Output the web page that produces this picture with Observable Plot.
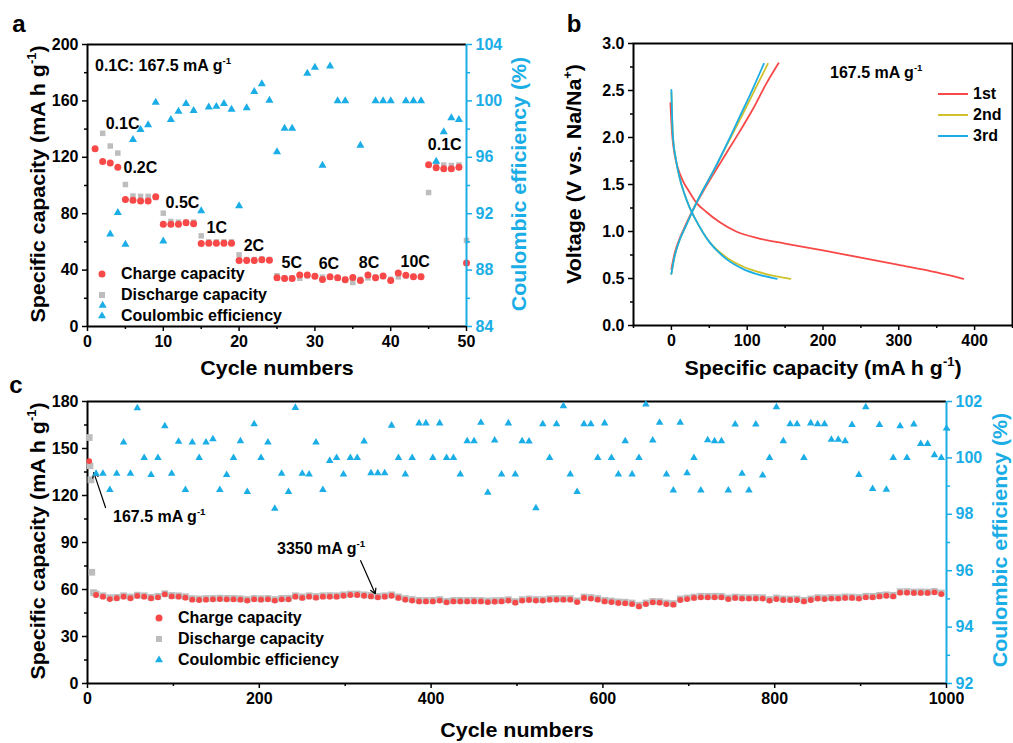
<!DOCTYPE html>
<html><head><meta charset="utf-8">
<script src="https://cdn.jsdelivr.net/npm/d3@7"></script>
<script src="https://cdn.jsdelivr.net/npm/@observablehq/plot@0.6"></script>
<style>
html,body{margin:0;padding:0;background:#fff;}
#root{position:relative;width:1013px;height:743px;overflow:hidden;font-family:"Liberation Sans",Arial,sans-serif;font-weight:bold;}
.t{position:absolute;white-space:nowrap;font-weight:bold;line-height:1;}
.t sup{font-size:0.6em;vertical-align:0.75em;line-height:0;}
.sym{position:absolute;}
</style>
</head><body><div id="root"></div>
<script>
// ---------------- data: panel a (rate capability) ----------------
const aChargeCycles = [1,2,3,4,5,6,7,8,9,10,11,12,13,14,15,16,17,18,19,20,21,22,23,24,25,26,27,28,29,30,31,32,33,34,35,36,37,38,39,40,41,42,43,44,45,46,47,48,49,50];
const aCharge = [126,117,116,113,90,89.5,89,89,92,72.6,72.5,72.5,73.5,72.8,58.9,59,59,59,59,46.8,46.8,46.8,47.3,47,34.5,34,34,36.5,36.5,35.6,33.4,35.2,34.5,33.1,34.7,32.6,36.5,34.5,35.9,32.6,37.9,36.3,35.2,35.2,114.7,112.6,111.8,111.8,113,45];
const aDischargeCycles = [2,3,4,5,6,7,8,9,10,11,12,13,14,15,16,17,18,19,20,21,22,23,24,25,26,27,28,29,30,31,32,33,34,35,36,37,38,39,40,41,42,43,44,45,46,47,48,49,50];
const aDischarge = [137,128,123,100.7,92.5,92.3,92.3,91.5,80.4,74.5,74,74,74,64.3,60,60,60,60,50.8,47.5,47.5,47.8,47.5,36,34.5,34.5,34.2,36,35.5,35,35,34.5,33.5,31.2,33.5,34.5,35,35.5,33.5,35.2,36,35.5,35.5,95,114.8,114.5,114.2,114.5,61];
const aCECycles = [2,3,4,5,6,7,8,9,10,11,12,13,14,15,16,17,18,19,20,21,22,23,24,25,26,27,29,30,31,32,33,34,36,38,39,40,42,43,44,46,47,48,49];
const aCE = [85.5,90.55,92.08,89.82,97.25,97.96,98.3,99.9,90.05,98.67,99.26,99.8,99.3,92.2,99.56,99.6,99.8,99.4,92.55,99.5,100.65,101.2,100.04,96.38,98.05,98.05,101.95,102.37,95.43,102.46,100,100,96.85,100,100,100,100,100,100,95.7,97.8,98.8,98.67];
const aRateLabels = ["0.1C","0.2C","0.5C","1C","2C","5C","6C","8C","10C","0.1C"];
const aRateX = [2.4,4.75,10.3,15.7,20.6,25.6,30.5,35.8,41.3,44.9];
const aRateY = [143.4,112.2,87.6,70,57.2,45.2,44.7,45,45.7,129];
const aXTicks = [0,10,20,30,40,50], aXMinor = [5,15,25,35,45];
const aYTicks = [0,40,80,120,160,200], aYMinor = [20,60,100,140,180];
const aCETicks = [84,88,92,96,100,104], aCEMinor = [86,90,94,98,102];

// ---------------- data: panel b (voltage profiles) ----------------
const b1stDischarge = [[-1.3,2.365],[0.9,2.04],[4,1.83],[8.4,1.68],[15,1.54],[23.8,1.42],[32.6,1.31],[45.8,1.21],[63.4,1.10],[85.4,1.0],[116,0.925],[150,0.872],[200,0.80],[250,0.722],[300,0.645],[350,0.565],[385,0.497]];
const b2ndDischarge = [[0,2.48],[1.8,2.04],[6.2,1.755],[10.6,1.58],[17.2,1.40],[23.8,1.26],[30.4,1.15],[41.4,0.993],[50.2,0.89],[72.2,0.727],[94.2,0.628],[116,0.567],[157,0.496]];
const b3rdDischarge = [[0,2.507],[1.8,2.04],[6.2,1.755],[10.6,1.58],[17.2,1.40],[23.8,1.26],[30.4,1.15],[41.4,0.993],[50.2,0.887],[72.2,0.709],[94.2,0.603],[116.2,0.539],[139,0.496]];
const b1stCharge = [[0,0.60],[4,0.76],[10.6,0.92],[19.4,1.08],[28.2,1.23],[41.4,1.42],[54.6,1.60],[72.2,1.83],[89.8,2.06],[107.4,2.30],[125,2.57],[141.3,2.79]];
const b2ndCharge = [[0,0.55],[4,0.727],[10.6,0.904],[19.4,1.064],[28.2,1.223],[41.4,1.436],[54.6,1.63],[72.2,1.905],[94.2,2.25],[111.8,2.535],[127.2,2.784]];
const b3rdCharge = [[0,0.55],[4,0.727],[10.6,0.904],[19.4,1.064],[28.2,1.223],[41.4,1.436],[54.6,1.63],[72.2,1.915],[89.8,2.216],[107.4,2.518],[121.9,2.784]];
const bXTicks = [0,100,200,300,400], bXMinor = [-50,50,150,250,350,450];
const bYTicks = [0,0.5,1,1.5,2,2.5,3], bYMinor = [0.25,0.75,1.25,1.75,2.25,2.75];

// ---------------- data: panel c (long cycling) ----------------
const cCycles = [10,18,26,34,42,50,58,66,74,82,90,98,106,114,122,130,138,146,154,162,170,178,186,194,202,210,218,226,234,242,250,258,266,274,282,290,298,306,314,322,330,338,346,354,362,370,378,386,394,402,410,418,426,434,442,450,458,466,474,482,490,498,506,514,522,530,538,546,554,562,570,578,586,594,602,610,618,626,634,642,650,658,666,674,682,690,698,706,714,722,730,738,746,754,762,770,778,786,794,802,810,818,826,834,842,850,858,866,874,882,890,898,906,914,922,930,938,946,954,962,970,978,986,994];
const cCharge = [56.5,55.4,53.9,54.4,55.4,54.4,55.9,55.4,54.4,55.0,
56.9,55.6,55.4,54.8,53.5,53.3,53.5,53.7,53.9,53.7,
53.7,53.5,52.9,53.7,53.5,53.7,52.9,53.7,53.7,55.4,
54.6,55.4,54.8,55.4,55.4,55.4,56.0,56.5,56.5,56.0,
55.6,55.0,55.4,56.0,54.6,53.5,52.9,52.4,52.4,52.4,
52.9,51.8,52.4,52.4,52.4,52.4,52.4,52.0,52.2,52.4,
52.9,51.6,52.9,53.3,52.9,52.9,53.5,53.5,53.5,53.5,
52.0,54.6,54.2,53.5,52.4,52.0,51.4,51.2,50.7,49.2,
50.7,51.8,51.6,50.7,50.3,53.3,53.9,54.6,55.0,55.0,
55.0,55.0,53.9,54.6,54.2,54.2,54.2,54.2,52.9,53.9,
53.3,53.3,53.3,52.4,53.3,54.2,53.9,54.2,54.2,54.6,
54.6,54.2,55.0,55.0,55.6,56.0,55.6,58.0,58.0,57.8,
57.8,57.8,58.2,57.1];
const cDischarge = [57.2,56.0,54.8,55.0,56.0,55.2,56.4,56.0,55.0,55.6,
57.3,56.2,56.0,55.4,54.2,54.0,54.2,54.3,54.5,54.3,
54.3,54.1,53.6,54.3,54.1,54.3,53.6,54.3,54.4,56.0,
55.3,56.0,55.5,56.0,56.1,56.0,56.6,57.1,57.1,56.6,
56.2,55.7,56.0,56.6,55.3,54.2,53.6,53.1,53.0,53.1,
53.6,52.5,53.0,53.1,53.0,53.1,53.0,52.7,52.9,53.0,
53.5,52.3,53.5,54.0,53.6,53.5,54.1,54.2,54.1,54.2,
52.8,55.2,54.9,54.2,53.1,52.7,52.1,51.9,51.4,50.0,
51.4,52.4,52.3,51.4,51.0,54.0,54.6,55.2,55.7,55.6,
55.7,55.6,54.6,55.2,54.9,54.8,54.9,54.8,53.6,54.6,
54.0,53.9,54.0,53.1,54.0,54.8,54.6,54.9,54.8,55.3,
55.2,54.9,55.7,55.6,56.3,56.6,56.3,58.6,58.7,58.4,
58.5,58.4,58.8,57.8];
const cStartChargeCycles = [2], cStartCharge = [142];
const cStartDischargeCycles = [2,3,4,5,7], cStartDischarge = [157,139,130,71,58];
const cCECycles = cCycles.concat([1000]);
const cCE = [99.44,99.44,98.87,99.44,100.55,99.44,101.77,100,99.4,100,
101.13,99.44,100.58,98.87,100.55,100,100.55,100.67,98.87,99.4,
100,100.6,98.8,101.2,100,100.55,98.2,99.44,98.8,101.78,
99.44,99.42,100.55,98.87,99.9,100,99.42,100,100,100.59,
99.46,99.46,99.46,101.15,100,99.42,100,101.23,101.23,100,
101.23,100,100,99.42,100.6,100.6,101.25,98.77,100.62,99.42,
101.23,99.42,100.6,100.59,98.22,101.2,100,101.2,101.84,99.42,
98.8,101.2,101.2,100,101.23,100,99.42,100.6,99.42,100,
101.9,100.62,101.25,99.42,98.85,101.25,99.46,100,98.85,100.63,
100.6,100.6,98.85,101.19,99.44,98.85,101.19,99.38,100,101.8,
100.6,101.2,101.2,100,101.23,101.2,101.2,100.65,100.65,100.6,
101.17,99.4,101.8,98.9,101.17,98.88,100,101.13,100,101.19,
100.5,100.5,100.1,100,101.05];
const cArrowFrom = [[21,112.3],[318,78.4]], cArrowTo = [[7.4,134.6],[335,57.3]];
const cXTicks = [0,200,400,600,800,1000], cXMinor = [100,300,500,700,900];
const cYTicks = [0,30,60,90,120,150,180], cYMinor = [15,45,75,105,135,165];
const cCETicks = [92,94,96,98,100,102], cCEMinor = [93,95,97,99,101];

// ---------------- styling ----------------
const RED = "#F84848", GRAY = "#BDBDBD", CYAN = "#1AADE6", YELLOW = "#CFC02C";
const FONT = '"Liberation Sans", Arial, sans-serif';
const baseStyle = {fontFamily: FONT, fontSize: "16px", fontWeight: "bold", color: "#000", background: "none", overflow: "visible"};
const ceStyle = {...baseStyle, color: CYAN};
const root = document.getElementById("root");
const toRows = (xs, ys) => xs.map((x, i) => ({x, y: ys[i]}));
const plain = d => String(d);

function place(svg, left, top) {
  const d = document.createElement("div");
  d.style.position = "absolute"; d.style.left = left + "px"; d.style.top = top + "px";
  d.appendChild(svg); root.appendChild(d);
}
function txt(html, x, y, o = {}) {
  const d = document.createElement("div");
  d.className = "t"; d.innerHTML = html;
  d.style.left = x + "px"; d.style.top = y + "px";
  d.style.fontSize = (o.size || 16) + "px"; d.style.color = o.color || "#000";
  const sx = o.sx || 1;
  if (o.rotate) d.style.transform = `translate(-50%,-50%) rotate(-90deg) scale(${sx},1)`;
  else if (o.center) d.style.transform = `translate(-50%,-50%) scale(${sx},1)`;
  else { d.style.transform = `translateY(-50%) scale(${sx},1)`; d.style.transformOrigin = "left center"; }
  root.appendChild(d);
}
function sym(kind, cx, cy, color, s) {
  const ns = "http://www.w3.org/2000/svg";
  const svg = document.createElementNS(ns, "svg");
  svg.setAttribute("width", 14); svg.setAttribute("height", 14);
  svg.setAttribute("class", "sym");
  svg.style.left = (cx - 7) + "px"; svg.style.top = (cy - 7) + "px";
  let el;
  if (kind === "circle") { el = document.createElementNS(ns, "circle"); el.setAttribute("cx", 7); el.setAttribute("cy", 7); el.setAttribute("r", s); }
  else if (kind === "square") { el = document.createElementNS(ns, "rect"); el.setAttribute("x", 7 - s); el.setAttribute("y", 7 - s); el.setAttribute("width", 2 * s); el.setAttribute("height", 2 * s); }
  else { el = document.createElementNS(ns, "path"); const h = s * 1.732; el.setAttribute("d", `M7,${7 - h * 2 / 3}L${7 + s},${7 + h / 3}L${7 - s},${7 + h / 3}Z`); }
  el.setAttribute("fill", color); svg.appendChild(el); root.appendChild(svg);
}
const majorTick = {tickSize: 5, tickPadding: 4, strokeWidth: 1.5, label: null, tickFormat: plain};
const minorTick = {tickSize: 3, strokeWidth: 1.5, tickFormat: () => "", label: null};

// ---------------- panel a ----------------
const aChargeRows = toRows(aChargeCycles, aCharge);
const aDisRows = toRows(aDischargeCycles, aDischarge);
const aCERows = toRows(aCECycles, aCE);
const aLabelRows = aRateLabels.map((t, i) => ({t, x: aRateX[i], y: aRateY[i]}));
const aDims = {width: 520, height: 380, marginLeft: 87, marginRight: 54, marginTop: 44, marginBottom: 54};

place(Plot.plot({
  ...aDims, style: baseStyle,
  x: {domain: [0, 50]}, y: {domain: [0, 200]},
  marks: [
    Plot.axisX(aXTicks, majorTick), Plot.axisX(aXMinor, minorTick),
    Plot.axisY(aYTicks, majorTick), Plot.axisY(aYMinor, minorTick),
    Plot.ruleX([0], {strokeWidth: 2}), Plot.ruleY([0], {strokeWidth: 2}), Plot.ruleY([200], {strokeWidth: 2}),
    Plot.dot(aDisRows, {x: "x", y: "y", symbol: "square", fill: GRAY, r: 3.1}),
    Plot.dot(aChargeRows, {x: "x", y: "y", fill: RED, r: 3.5}),
    Plot.text(aLabelRows, {x: "x", y: "y", text: "t", textAnchor: "start", fontSize: 16, fontWeight: "bold", fill: "#000"})
  ]
}), 0, 0);
place(Plot.plot({
  ...aDims, style: ceStyle,
  x: {domain: [0, 50], axis: null}, y: {domain: [84, 104]},
  marks: [
    Plot.axisY(aCETicks, {...majorTick, anchor: "right"}), Plot.axisY(aCEMinor, {...minorTick, anchor: "right"}),
    Plot.ruleX([50], {stroke: CYAN, strokeWidth: 2}),
    Plot.dot(aCERows, {x: "x", y: "y", symbol: "triangle", fill: CYAN, r: 3})
  ]
}), 0, 0);

// ---------------- panel b ----------------
const bCurves = [
  {data: b1stDischarge, c: RED}, {data: b1stCharge, c: RED},
  {data: b2ndDischarge, c: YELLOW}, {data: b2ndCharge, c: YELLOW},
  {data: b3rdDischarge, c: CYAN}, {data: b3rdCharge, c: CYAN}
];
place(Plot.plot({
  width: 453, height: 380, marginLeft: 73, marginRight: 1, marginTop: 43, marginBottom: 55,
  style: baseStyle,
  x: {domain: [-50, 450]}, y: {domain: [0, 3]},
  marks: [
    Plot.axisX(bXTicks, majorTick), Plot.axisX(bXMinor, minorTick),
    Plot.axisY(bYTicks, {...majorTick, tickFormat: d3.format(".1f")}), Plot.axisY(bYMinor, minorTick),
    Plot.frame({stroke: "#000", strokeWidth: 2}),
    ...bCurves.map(k => Plot.line(k.data, {x: d => d[0], y: d => d[1], stroke: k.c, strokeWidth: 1.8, curve: "monotone-x"}))
  ]
}), 560, 0);

// ---------------- panel c ----------------
const cChargeRows = toRows(cStartChargeCycles, cStartCharge).concat(toRows(cCycles, cCharge));
const cDisRows = toRows(cStartDischargeCycles, cStartDischarge).concat(toRows(cCycles, cDischarge));
const cCERows = toRows(cCECycles, cCE);
const cArrowRows = cArrowFrom.map((f, i) => ({x1: f[0], y1: f[1], x2: cArrowTo[i][0], y2: cArrowTo[i][1]}));
const cDims = {width: 1013, height: 363, marginLeft: 87, marginRight: 67, marginTop: 21, marginBottom: 60};
place(Plot.plot({
  ...cDims, style: baseStyle,
  x: {domain: [0, 1000]}, y: {domain: [0, 180]},
  marks: [
    Plot.axisX(cXTicks, majorTick), Plot.axisX(cXMinor, minorTick),
    Plot.axisY(cYTicks, majorTick), Plot.axisY(cYMinor, minorTick),
    Plot.ruleX([0], {strokeWidth: 2}), Plot.ruleY([0], {strokeWidth: 2}), Plot.ruleY([180], {strokeWidth: 2}),
    Plot.dot(cDisRows, {x: "x", y: "y", symbol: "square", fill: GRAY, r: 3.8}),
    Plot.dot(cChargeRows, {x: "x", y: "y", fill: RED, r: 2.9}),
    Plot.arrow(cArrowRows, {x1: "x1", y1: "y1", x2: "x2", y2: "y2", stroke: "#000", strokeWidth: 1.2, headLength: 7})
  ]
}), 0, 380);
place(Plot.plot({
  ...cDims, style: ceStyle,
  x: {domain: [0, 1000], axis: null}, y: {domain: [92, 102]},
  marks: [
    Plot.axisY(cCETicks, {...majorTick, anchor: "right"}), Plot.axisY(cCEMinor, {...minorTick, anchor: "right"}),
    Plot.ruleX([1000], {stroke: CYAN, strokeWidth: 2}),
    Plot.dot(cCERows, {x: "x", y: "y", symbol: "triangle", fill: CYAN, r: 2.8})
  ]
}), 0, 380);

// ---------------- texts ----------------
const SX = 1.07;
txt("a", 19, 24, {size: 24, center: true});
txt("b", 574, 24, {size: 24, center: true});
txt("c", 16, 385, {size: 24, center: true});
// panel a
txt("Specific capacity (mA h g<sup>-1</sup>)", 38, 184, {size: 20, rotate: true, sx: SX});
txt("Coulombic efficiency (%)", 519, 184, {size: 20, rotate: true, sx: SX, color: CYAN});
txt("Cycle numbers", 277, 368, {size: 20, center: true, sx: SX});
txt("0.1C: 167.5 mA g<sup>-1</sup>", 95, 66, {size: 16});
// panel b
txt("Voltage (V vs. Na/Na<sup>+</sup>)", 574, 174, {size: 20, rotate: true, sx: SX});
txt("Specific capacity (mA h g<sup>-1</sup>)", 823, 368, {size: 20, center: true, sx: SX});
txt("167.5 mA g<sup>-1</sup>", 830, 73, {size: 16});
// panel c
txt("Specific capacity (mA h g<sup>-1</sup>)", 38, 541, {size: 20, rotate: true, sx: SX});
txt("Coulombic efficiency (%)", 1000, 540, {size: 20, rotate: true, sx: SX, color: CYAN});
txt("Cycle numbers", 517, 730, {size: 20, center: true, sx: SX});
txt("167.5 mA g<sup>-1</sup>", 113, 517, {size: 16});
txt("3350 mA g<sup>-1</sup>", 277, 549, {size: 16});

// legends
const legendNames = ["Charge capacity", "Discharge capacity", "Coulombic efficiency"];
const legendKinds = ["circle", "square", "triangle"];
const legendColors = [RED, GRAY, CYAN];
const legendSizes = [3.5, 3, 4];
const aLegendY = [274, 295, 316], cLegendY = [618, 639, 660];
legendNames.forEach((n, i) => {
  sym(legendKinds[i], 102, aLegendY[i], legendColors[i], legendSizes[i]);
  txt(n, 121, aLegendY[i], {size: 16});
  sym(legendKinds[i], 159, cLegendY[i], legendColors[i], legendSizes[i]);
  txt(n, 178, cLegendY[i], {size: 16});
});
const bLegendNames = ["1st", "2nd", "3rd"], bLegendColors = [RED, YELLOW, CYAN], bLegendY = [94, 115, 136];
bLegendNames.forEach((n, i) => {
  const l = document.createElement("div");
  l.style.cssText = `position:absolute;left:938px;top:${bLegendY[i] - 1}px;width:30px;height:2px;background:${bLegendColors[i]}`;
  root.appendChild(l);
  txt(n, 973, bLegendY[i], {size: 16});
});
</script>
</body></html>
